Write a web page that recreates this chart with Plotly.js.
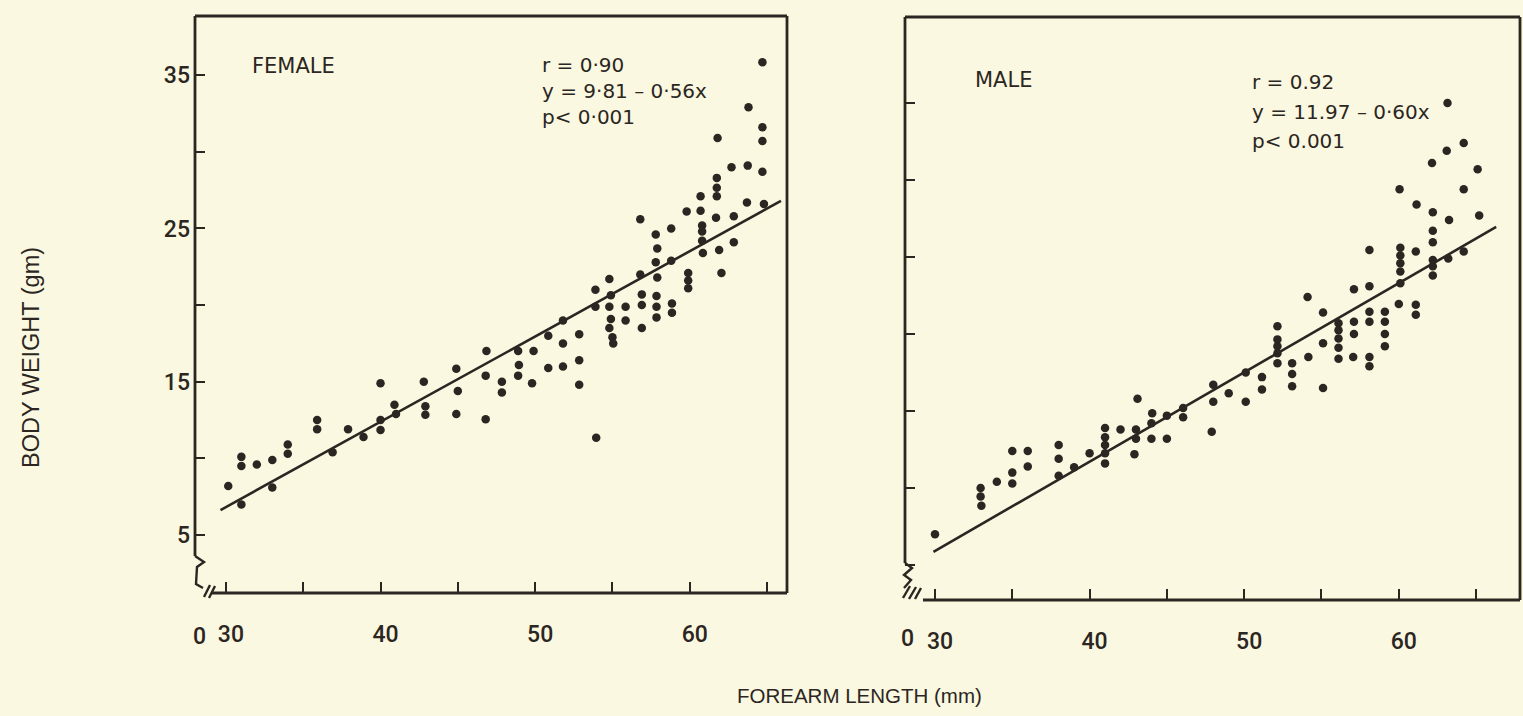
<!DOCTYPE html>
<html>
<head>
<meta charset="utf-8">
<script src="https://cdn.plot.ly/plotly-3.0.1.min.js"></script>
<style>
html,body{margin:0;padding:0;background:#fbf8e1;}
#chart{width:1523px;height:716px;}
</style>
</head>
<body>
<div id="chart"></div>
<script>
// ---------------- DATA ----------------
const femaleForearm = [30.15, 31.0, 31.0, 31.0, 32.0, 33.0, 33.0, 34.0, 34.0, 35.9, 35.9, 36.9, 37.9, 38.9, 40.0, 40.0, 40.0, 40.9, 41.0, 42.8, 42.9, 42.9, 44.9, 45.0, 44.9, 46.85, 46.8, 46.8, 47.85, 47.85, 48.9, 48.95, 48.9, 49.9, 49.8, 50.85, 50.85, 51.8, 51.8, 51.8, 52.85, 52.85, 52.85, 53.95, 53.9, 53.9, 54.8, 54.9, 54.8, 54.9, 54.8, 55.0, 55.05, 55.85, 55.85, 56.8, 56.8, 56.9, 56.9, 56.9, 57.8, 57.9, 57.8, 57.9, 57.85, 57.85, 57.85, 58.8, 58.8, 58.85, 58.85, 59.8, 59.9, 59.9, 59.9, 60.7, 60.7, 60.8, 60.8, 60.8, 60.85, 61.8, 61.75, 61.75, 61.75, 61.7, 61.9, 62.05, 62.7, 62.85, 62.85, 63.8, 63.75, 63.7, 64.7, 64.7, 64.7, 64.7, 64.8];
const femaleWeight = [8.2, 10.1, 9.5, 7.0, 9.6, 9.9, 8.1, 10.9, 10.3, 12.5, 11.9, 10.4, 11.9, 11.4, 14.9, 12.5, 11.85, 13.5, 12.9, 15.0, 13.4, 12.85, 15.85, 14.4, 12.9, 17.0, 15.4, 12.55, 15.0, 14.3, 17.0, 16.1, 15.4, 17.0, 14.9, 18.0, 15.9, 19.0, 17.5, 16.0, 18.1, 16.4, 14.8, 11.35, 21.0, 19.9, 21.7, 20.65, 19.9, 19.1, 18.5, 17.9, 17.5, 19.9, 19.0, 25.6, 22.0, 20.7, 20.0, 18.5, 24.6, 23.7, 22.8, 21.8, 20.6, 19.9, 19.2, 25.0, 22.9, 20.1, 19.5, 26.1, 22.1, 21.6, 21.1, 27.1, 26.15, 25.2, 24.8, 24.2, 23.4, 30.9, 28.3, 27.65, 27.1, 25.7, 23.6, 22.1, 29.0, 25.8, 24.1, 32.9, 29.1, 26.7, 35.85, 31.6, 30.7, 28.7, 26.6];
const femaleFitX = [29.65, 65.9];
const femaleFitY = [6.63, 26.8];

const maleForearm = [30.0, 32.95, 32.95, 33.0, 34.0, 35.0, 35.0, 35.0, 36.0, 36.0, 38.0, 38.0, 38.0, 39.0, 40.0, 41.0, 41.0, 41.0, 41.0, 41.0, 42.0, 43.1, 43.0, 43.0, 42.9, 44.05, 44.0, 44.0, 45.0, 45.0, 46.05, 46.05, 47.9, 48.0, 48.0, 49.0, 50.1, 50.1, 51.15, 51.15, 52.15, 52.15, 52.15, 52.15, 52.15, 53.1, 53.1, 53.1, 54.1, 54.15, 55.1, 55.1, 55.1, 56.1, 56.1, 56.1, 56.1, 56.1, 57.1, 57.1, 57.1, 57.05, 58.1, 58.1, 58.1, 58.1, 58.1, 58.1, 59.1, 59.1, 59.1, 59.1, 60.05, 60.1, 60.1, 60.1, 60.1, 60.1, 60.0, 61.15, 61.1, 61.1, 61.1, 62.15, 62.2, 62.2, 62.2, 62.2, 62.2, 62.2, 63.15, 63.1, 63.25, 63.2, 64.2, 64.2, 64.2, 65.1, 65.2];
const maleWeight = [7.0, 10.0, 9.45, 8.85, 10.4, 12.4, 11.0, 10.3, 12.4, 11.4, 12.8, 11.9, 10.8, 11.35, 12.25, 13.9, 13.3, 12.8, 12.25, 11.6, 13.8, 15.8, 13.8, 13.2, 12.2, 14.85, 14.2, 13.2, 14.7, 13.2, 15.2, 14.6, 13.65, 16.7, 15.6, 16.15, 17.5, 15.6, 17.2, 16.4, 20.5, 19.65, 19.2, 18.75, 18.1, 18.1, 17.4, 16.6, 22.4, 18.5, 21.4, 19.4, 16.5, 20.7, 20.25, 19.7, 19.1, 18.4, 22.9, 20.8, 20.0, 18.5, 25.45, 23.1, 21.45, 20.8, 18.5, 17.9, 21.45, 20.8, 20.0, 19.2, 29.4, 25.6, 25.1, 24.6, 24.05, 23.3, 21.95, 28.4, 25.35, 21.9, 21.25, 31.1, 27.9, 26.7, 25.95, 24.8, 24.4, 23.8, 35.0, 31.9, 27.4, 24.9, 32.4, 29.4, 25.35, 30.7, 27.7];
const maleFitX = [29.9, 66.3];
const maleFitY = [5.86, 26.95];

const xTickVals = [30, 35, 40, 45, 50, 55, 60, 65];
const xTickText = ['30', '', '40', '', '50', '', '60', ''];
const yTickVals = [5, 10, 15, 20, 25, 30, 35];
const yTickText = ['5', '', '15', '', '25', '', '35'];

const femaleLabel = 'FEMALE';
const femaleStats = ['r = 0\u00b790', 'y = 9\u00b781 \u2013 0\u00b756x', 'p< 0\u00b7001'];
const maleLabel = 'MALE';
const maleStats = ['r = 0.92', 'y = 11.97 \u2013 0\u00b760x', 'p< 0.001'];
const yTitle = 'BODY WEIGHT (gm)';
const xTitle = 'FOREARM LENGTH (mm)';

// ---------------- STYLE ----------------
const INK = '#2b2622';
const BG = '#fbf8e1';
const W = 1523, H = 716;
const px = v => v / W;
const py = v => 1 - v / H;
const TXT = 'DejaVu Sans, Liberation Sans, sans-serif';
const TITLE = 'Liberation Sans, Arial, sans-serif';
const TICKFAM = 'Roboto, DejaVu Sans, sans-serif';

const dots = (x, y, xa, ya) => ({
  x: x, y: y, xaxis: xa, yaxis: ya, type: 'scatter', mode: 'markers',
  marker: {size: 8.5, color: INK}, hoverinfo: 'x+y'
});
const fit = (x, y, xa, ya) => ({
  x: x, y: y, xaxis: xa, yaxis: ya, type: 'scatter', mode: 'lines',
  line: {color: INK, width: 2.6}, hoverinfo: 'skip'
});

const data = [
  fit(femaleFitX, femaleFitY, 'x', 'y'),
  dots(femaleForearm, femaleWeight, 'x', 'y'),
  fit(maleFitX, maleFitY, 'x2', 'y2'),
  dots(maleForearm, maleWeight, 'x2', 'y2')
];

const tickFont = {family: TICKFAM, size: 23, color: INK, weight: 500};
const xAxisBase = {
  showgrid: false, zeroline: false, showline: false,
  ticks: 'inside', ticklen: 11, tickwidth: 2, tickcolor: INK,
  tickvals: xTickVals, ticktext: xTickText,
  tickfont: tickFont,
  ticklabelstandoff: 25, ticklabelshift: 5, fixedrange: true
};
const yAxisBase = {
  showgrid: false, zeroline: false, showline: false,
  ticks: 'inside', ticklen: 10, tickwidth: 2, tickcolor: INK,
  tickvals: yTickVals, ticktext: yTickText,
  tickfont: tickFont,
  ticklabelstandoff: 4, fixedrange: true
};

function seg(x0, y0, x1, y1) {
  return {type: 'line', xref: 'paper', yref: 'paper',
    x0: px(x0), y0: py(y0), x1: px(x1), y1: py(y1),
    line: {color: INK, width: 2.8}};
}
function path(pts, w) {
  let d = 'M ' + px(pts[0][0]) + ',' + py(pts[0][1]);
  for (let i = 1; i < pts.length; i++) d += ' L ' + px(pts[i][0]) + ',' + py(pts[i][1]);
  return {type: 'path', xref: 'paper', yref: 'paper', path: d,
    line: {color: INK, width: w || 2.4}};
}

const shapes = [
  // left panel frame
  seg(195, 16, 787, 16), seg(787, 16, 787, 593), seg(195, 16, 195, 556), seg(211, 593, 787, 593),
  path([[195, 556], [204, 562], [197, 567], [196, 584], [203, 588]]),
  path([[204, 597], [210, 585]]), path([[209, 598], [215, 586]]),
  // right panel frame
  seg(905, 17, 1520, 17), seg(1520, 17, 1520, 600), seg(905, 17, 905, 563), seg(923, 600, 1520, 600),
  path([[905, 563], [912, 568], [904, 575], [911, 580], [904, 588]]),
  path([[903, 598], [910, 586]]), path([[909, 599], [916, 587]]), path([[915, 599], [921, 588]])
];

function ann(text, x, y, size, anchor, extra) {
  return Object.assign({text: text, xref: 'paper', yref: 'paper', x: px(x), y: py(y),
    xanchor: anchor || 'left', yanchor: 'middle', showarrow: false,
    font: {family: TXT, size: size, color: INK}}, extra || {});
}

const annotations = [
  ann(femaleLabel, 250, 66, 21),
  ann(femaleStats[0], 540, 65, 20),
  ann(femaleStats[1], 540, 91, 20),
  ann(femaleStats[2], 540, 117, 20),
  ann(maleLabel, 973, 80, 21),
  ann(maleStats[0], 1250, 82, 20),
  ann(maleStats[1], 1250, 112, 20),
  ann(maleStats[2], 1250, 141, 20),
  ann('0', 199, 636, 23, 'center', {font: tickFont}),
  ann('0', 907, 638, 23, 'center', {font: tickFont}),
  ann(yTitle, 31, 358, 23, 'center', {textangle: -90, font: {family: TITLE, size: 23.5, color: INK}}),
  ann(xTitle, 859, 695, 20, 'center', {font: {family: TITLE, size: 20.5, color: INK}})
];

const layout = {
  width: W, height: H,
  margin: {l: 0, r: 0, t: 0, b: 0},
  paper_bgcolor: BG, plot_bgcolor: 'rgba(0,0,0,0)',
  showlegend: false,
  font: {family: TXT, color: INK},
  xaxis: Object.assign({}, xAxisBase, {domain: [px(195), px(787)], range: [28.0, 66.29], anchor: 'y'}),
  yaxis: Object.assign({}, yAxisBase, {domain: [py(593), py(16)], range: [1.22, 38.86], anchor: 'x'}),
  xaxis2: Object.assign({}, xAxisBase, {domain: [px(905), px(1520)], range: [28.06, 67.84], anchor: 'y2'}),
  yaxis2: Object.assign({}, yAxisBase, {domain: [py(600), py(17)], range: [2.73, 40.58], anchor: 'x2', showticklabels: false}),
  shapes: shapes,
  annotations: annotations
};

Plotly.newPlot('chart', data, layout, {displayModeBar: false});
</script>
</body>
</html>
